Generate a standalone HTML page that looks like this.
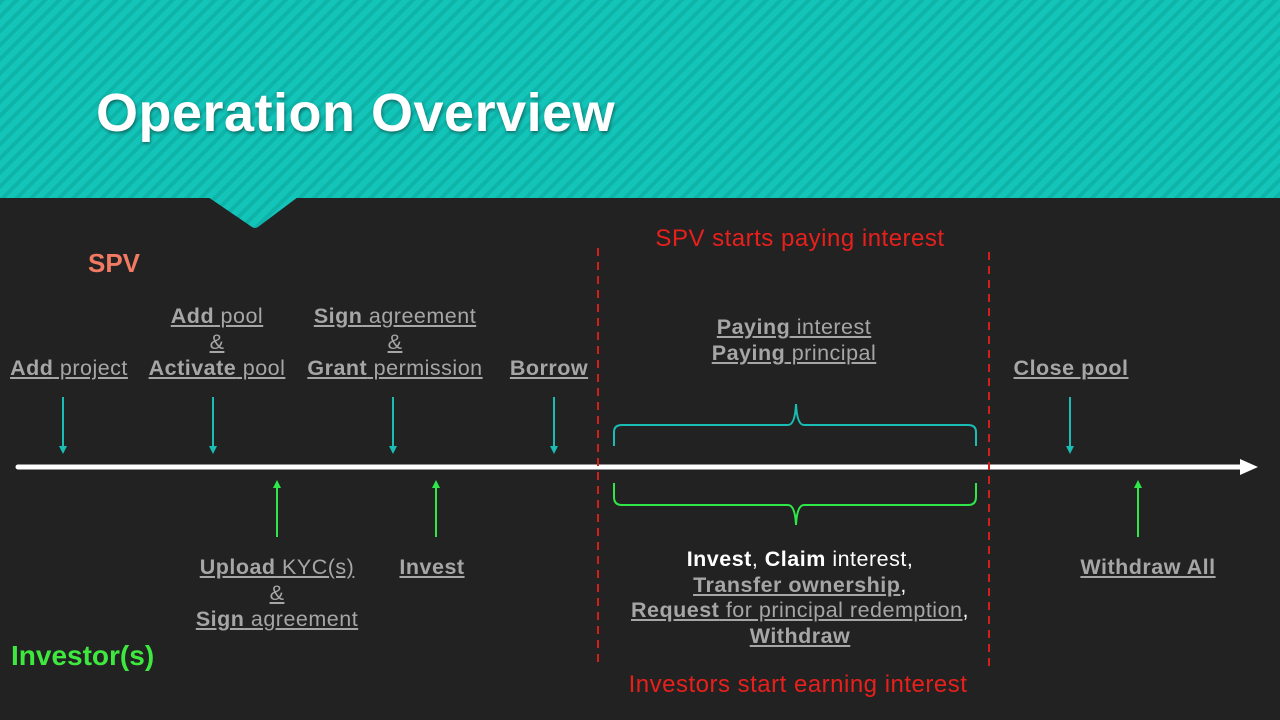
<!DOCTYPE html>
<html><head><meta charset="utf-8"><style>
body{margin:0;width:1280px;height:720px;overflow:hidden;background:#222;font-family:"Liberation Sans",sans-serif}
.t{position:absolute;color:#a6a6a6;font-size:21.5px;letter-spacing:0.5px;line-height:26px;text-align:center;white-space:nowrap;transform:translateX(-50%)}
.t span,.t u{text-decoration:underline}
b{font-weight:bold}
.w{color:#fff}
</style></head><body>
<svg width="1280" height="720" style="position:absolute;left:0;top:0">
<defs><pattern id="st" width="10" height="10" patternUnits="userSpaceOnUse" patternTransform="rotate(45)"><rect width="10" height="10" fill="#13c4b8"/><rect width="4" height="10" fill="#0fb4a9"/></pattern></defs>
<g><rect width="1280" height="198" fill="url(#st)"/><path d="M208 197 L298 197 L258 227 Q255 229 252 227 Z" fill="url(#st)"/></g>
<line x1="18" y1="467" x2="1245" y2="467" stroke="#fff" stroke-width="5" stroke-linecap="round"/>
<path d="M1240 459 L1258 467 L1240 475 Z" fill="#fff"/>
<g stroke="#19bdb3" stroke-width="2" fill="#19bdb3">
<line x1="63" y1="397" x2="63" y2="447"/><path d="M59 446 L67 446 L63 454Z" stroke="none"/>
<line x1="213" y1="397" x2="213" y2="447"/><path d="M209 446 L217 446 L213 454Z" stroke="none"/>
<line x1="393" y1="397" x2="393" y2="447"/><path d="M389 446 L397 446 L393 454Z" stroke="none"/>
<line x1="554" y1="397" x2="554" y2="447"/><path d="M550 446 L558 446 L554 454Z" stroke="none"/>
<line x1="1070" y1="397" x2="1070" y2="447"/><path d="M1066 446 L1074 446 L1070 454Z" stroke="none"/>
</g>
<g stroke="#2ee84a" stroke-width="2" fill="#2ee84a">
<line x1="277" y1="537" x2="277" y2="487"/><path d="M273 488 L281 488 L277 480Z" stroke="none"/>
<line x1="436" y1="537" x2="436" y2="487"/><path d="M432 488 L440 488 L436 480Z" stroke="none"/>
<line x1="1138" y1="537" x2="1138" y2="487"/><path d="M1134 488 L1142 488 L1138 480Z" stroke="none"/>
</g>
<g stroke="#d0201c" stroke-width="2" stroke-dasharray="8,6">
<line x1="598" y1="248" x2="598" y2="662"/><line x1="989" y1="252" x2="989" y2="666"/></g>
<path d="M614 446 L614 432 Q614 425 622 425 L788 425 Q795 425 796 404 Q797 425 804 425 L968 425 Q976 425 976 432 L976 446" fill="none" stroke="#19bdb3" stroke-width="2"/>
<path d="M614 483 L614 497 Q614 505 622 505 L788 505 Q795 505 796 525 Q797 505 804 505 L968 505 Q976 505 976 497 L976 483" fill="none" stroke="#2ee84a" stroke-width="2"/>
</svg>
<div style="position:absolute;left:96px;top:82px;font-size:54px;letter-spacing:0.5px;font-weight:bold;color:#fff;text-shadow:1px 2px 3px rgba(0,0,0,.4)">Operation Overview</div>
<div style="position:absolute;left:88px;top:248px;font-size:26px;font-weight:bold;color:#f07a62">SPV</div>
<div style="position:absolute;left:11px;top:640px;font-size:28px;font-weight:bold;color:#3ee83e">Investor(s)</div>
<div class="t" style="left:800px;top:226px;color:#e8201c;font-size:24px;letter-spacing:0.5px">SPV starts paying interest</div>
<div class="t" style="left:798px;top:672px;color:#e8201c;font-size:24px;letter-spacing:0.5px">Investors start earning interest</div>
<div class="t" style="left:69px;top:355px"><span><b>Add</b> project</span></div>
<div class="t" style="left:217px;top:303px"><span><b>Add</b> pool</span><br><span>&amp; </span><br><span><b>Activate</b> pool</span></div>
<div class="t" style="left:395px;top:303px"><span><b>Sign</b> agreement</span><br><span>&amp;</span><br><span><b>Grant</b> permission</span></div>
<div class="t" style="left:549px;top:355px"><span><b>Borrow</b></span></div>
<div class="t" style="left:794px;top:314px"><span><b>Paying</b> interest</span><br><span><b>Paying</b> principal</span></div>
<div class="t" style="left:1071px;top:355px"><span><b>Close pool</b></span></div>
<div class="t" style="left:277px;top:554px"><span><b>Upload</b> KYC(s)</span><br><span>&amp;</span><br><span><b>Sign</b> agreement</span></div>
<div class="t" style="left:432px;top:554px"><span><b>Invest</b></span></div>
<div class="t" style="left:800px;top:547px;line-height:25.5px"><span class="w" style="text-decoration:none"><b>Invest</b>, <b>Claim</b> interest,</span><br><span><b>Transfer ownership</b></span><span class="w" style="text-decoration:none">,</span><br><span><b>Request</b> for principal redemption</span><span class="w" style="text-decoration:none">,</span><br><span><b>Withdraw</b></span></div>
<div class="t" style="left:1148px;top:554px"><span><b>Withdraw All</b></span></div>
</body></html>
